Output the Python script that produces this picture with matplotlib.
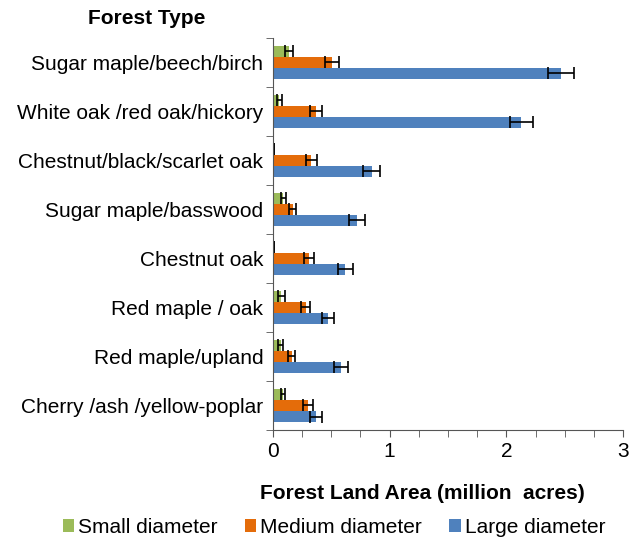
import numpy as np
import matplotlib.pyplot as plt
from matplotlib.ticker import MultipleLocator, FixedLocator

plt.rcParams['font.family'] = ['Liberation Sans', 'DejaVu Sans']

forest_types = [
    'Sugar maple/beech/birch',
    'White oak /red oak/hickory',
    'Chestnut/black/scarlet oak',
    'Sugar maple/basswood',
    'Chestnut oak',
    'Red maple / oak',
    'Red maple/upland',
    'Cherry /ash /yellow-poplar',
]
small = [0.135, 0.055, 0.005, 0.09, 0.005, 0.07, 0.065, 0.085]
small_err = [0.035, 0.02, 0.0, 0.02, 0.0, 0.03, 0.02, 0.02]
medium = [0.51, 0.37, 0.33, 0.17, 0.31, 0.28, 0.16, 0.30]
medium_err = [0.06, 0.05, 0.05, 0.03, 0.045, 0.04, 0.03, 0.04]
large = [2.47, 2.13, 0.845, 0.72, 0.62, 0.47, 0.58, 0.37]
large_err = [0.11, 0.10, 0.07, 0.07, 0.065, 0.05, 0.06, 0.05]

colors = ['#9BBB59', '#E46C0A', '#4F81BD']
labels = ['Small diameter', 'Medium diameter', 'Large diameter']
fs = 15

fig = plt.figure(figsize=(6.3, 5.39), dpi=100)
ax = fig.add_axes([0.4333, 0.2022, 0.5556, 0.728])

y = np.arange(len(forest_types))
h = 0.225
err_kw = dict(ecolor='black', elinewidth=1.2, capsize=4, capthick=1.2)
for off, vals, errs, c, lab in zip([-h, 0, h], [small, medium, large],
                                   [small_err, medium_err, large_err], colors, labels):
    ax.barh(y + off, vals, height=h, color=c, label=lab, xerr=errs,
            error_kw=err_kw)

ax.set_ylim(len(forest_types) - 0.5, -0.5)
ax.set_xlim(0, 3)
ax.set_yticks(y)
ax.set_yticklabels(forest_types, fontsize=fs)
ax.yaxis.set_minor_locator(FixedLocator(np.arange(-0.5, len(forest_types), 1)))
ax.tick_params(axis='y', which='major', length=0, pad=7)
ax.tick_params(axis='y', which='minor', length=5, color='#555555')
ax.set_xticks([0, 1, 2, 3])
ax.xaxis.set_minor_locator(MultipleLocator(0.25))
ax.tick_params(axis='x', which='major', length=5, labelsize=fs, color='#555555')
ax.tick_params(axis='x', which='minor', length=5, color='#555555')

for s in ['top', 'right']:
    ax.spines[s].set_visible(False)
for s in ['left', 'bottom']:
    ax.spines[s].set_color('#555555')

ax.set_xlabel('Forest Land Area (million  acres)', fontsize=fs,
              fontweight='bold')
ax.xaxis.set_label_coords(0.426, -0.137)
fig.text(0.14, 0.965, 'Forest Type', fontsize=fs, fontweight='bold',
         ha='left', va='center')

handles, labs = ax.get_legend_handles_labels()
fig.legend(handles, labs, loc='center', bbox_to_anchor=(0.53, 0.022),
           ncol=3, frameon=False, fontsize=fs, handlelength=0.55,
           handleheight=0.55, handletextpad=0.2, columnspacing=1.3,
           borderpad=0)

fig.savefig('out.png', dpi=100)
